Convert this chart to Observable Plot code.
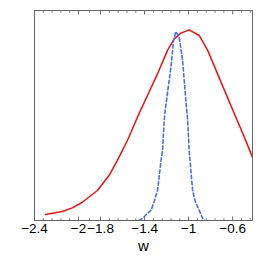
<!DOCTYPE html>
<html>
<head>
<meta charset="utf-8">
<script src="https://cdn.jsdelivr.net/npm/d3@7"></script>
<script src="https://cdn.jsdelivr.net/npm/@observablehq/plot@0.6"></script>
<style>
  html, body { margin: 0; padding: 0; background: #fff; }
  svg { display: block; }
</style>
</head>
<body>
<div id="chart"></div>
<script>
// Red solid curve
const wRed = [-2.30, -2.148, -2.057, -1.966, -1.829, -1.723, -1.647, -1.556, -1.465, -1.374, -1.283, -1.192, -1.131, -1.07, -0.995, -0.904, -0.827, -0.706, -0.585, -0.494, -0.418];
const pRed = [0.029, 0.043, 0.06, 0.087, 0.143, 0.214, 0.286, 0.381, 0.492, 0.595, 0.698, 0.81, 0.865, 0.892, 0.908, 0.881, 0.81, 0.659, 0.508, 0.397, 0.298];

// Blue dashed curve
const wBlue = [-1.45, -1.42, -1.38, -1.34, -1.31, -1.283, -1.268, -1.25, -1.237, -1.222, -1.213, -1.161, -1.137, -1.116, -1.086, -1.055, -1.025, -1.009, -0.995, -0.964, -0.94, -0.904, -0.873, -0.852];
const pBlue = [0.0, 0.01, 0.03, 0.05, 0.095, 0.143, 0.206, 0.29, 0.333, 0.476, 0.524, 0.73, 0.857, 0.90, 0.873, 0.762, 0.571, 0.476, 0.333, 0.143, 0.09, 0.048, 0.01, 0.0];

// Axis ticks
const majorTicks = [-2.4, -2, -1.8, -1.4, -1, -0.6];
const minorTicks = [-2.32, -2.24, -2.16, -2.08, -1.9, -1.72, -1.64, -1.56, -1.48, -1.32, -1.24, -1.16, -1.08, -0.92, -0.84, -0.76, -0.68, -0.52, -0.44];
const xLabel = "w";

const fmt = d => (d < 0 ? "\u2212" : "") + Math.abs(d);

const chart = Plot.plot({
  width: 273,
  height: 258,
  marginLeft: 34,
  marginRight: 21,
  marginTop: 10,
  marginBottom: 38,
  style: { fontFamily: "Liberation Sans, Arial, sans-serif", background: "#fff" },
  x: { domain: [-2.4, -0.42] },
  y: { domain: [0, 1] },
  marks: [
    Plot.line(wRed, { x: wRed, y: pRed, stroke: "#ee1111", strokeWidth: 1.5, clip: true }),
    Plot.line(wBlue, { x: wBlue, y: pBlue, stroke: "#4a6cf0", strokeWidth: 1.6, strokeDasharray: "3.5,2.5", clip: true }),
    Plot.axisX({ anchor: "bottom", ticks: minorTicks, tickSize: -2, text: null, label: null, stroke: "#888" }),
    Plot.axisX({ anchor: "top", ticks: minorTicks, tickSize: -2, text: null, label: null, stroke: "#888" }),
    Plot.axisX({ anchor: "top", ticks: majorTicks, tickSize: -3.5, text: null, label: null, stroke: "#666" }),
    Plot.axisX({ anchor: "bottom", ticks: majorTicks, tickSize: -3.5, text: null, label: null, stroke: "#666" }),
    Plot.axisX({ anchor: "bottom", ticks: majorTicks, tickSize: 0, tickPadding: 3, tickFormat: fmt, fontSize: 13.5, label: null, fill: "#000" }),
    Plot.axisY({ ticks: [], label: null }),
    Plot.frame({ stroke: "#666", strokeWidth: 1 }),
    Plot.text([xLabel], { text: d => d, frameAnchor: "bottom", dy: 26, fontSize: 15, lineAnchor: "middle", fill: "#000" })
  ]
});
document.getElementById("chart").appendChild(chart);
</script>
</body>
</html>
